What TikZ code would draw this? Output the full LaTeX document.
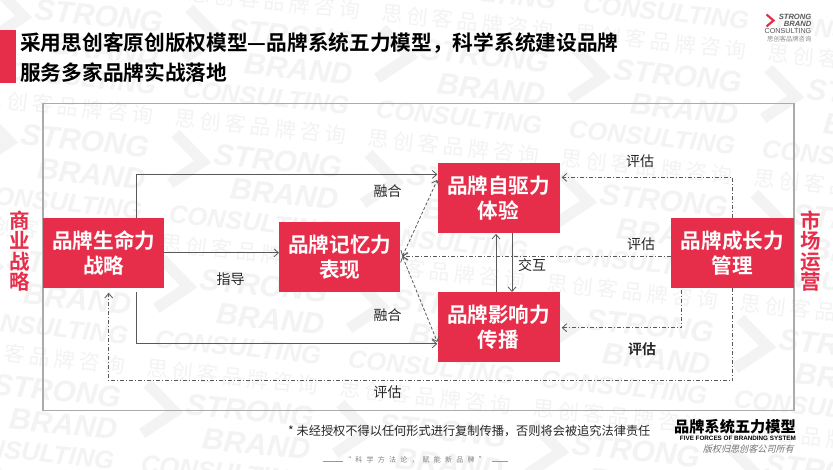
\documentclass[tikz,border=0pt]{standalone}
\usepackage{fontspec}
\usetikzlibrary{arrows.meta,calc}
\setmainfont{Noto Sans CJK SC}
\newfontfamily\cjk[BoldFont={Noto Sans CJK SC Bold}]{Noto Sans CJK SC}
\newfontfamily\cjkheavy{Noto Sans CJK SC Black}
\newfontfamily\cjkwm[LetterSpace=19]{Noto Sans CJK SC}
\newfontfamily\cjkfoot[LetterSpace=60]{Noto Sans CJK SC}
\newfontfamily\cjksl[FakeSlant=0.25]{Noto Sans CJK SC}
\newfontfamily\latin[ItalicFont={Liberation Sans Italic},BoldFont={Liberation Sans Bold},BoldItalicFont={Liberation Sans Bold Italic}]{Liberation Sans}
\definecolor{brandred}{HTML}{E62E4B}
\definecolor{wmgray}{HTML}{F3F3F3}
\definecolor{linegray}{HTML}{595959}
\definecolor{framegray}{HTML}{ABABAB}
\newcommand{\fs}[2]{\fontsize{#1}{#2}\selectfont}
\tikzset{
  redbox/.style={draw=none,fill=brandred,text=white,anchor=north west,inner sep=0pt,align=center,font=\cjk\bfseries\fs{20.6}{25}},
  sidetext/.style={text=brandred,inner sep=0pt,align=center,font=\cjk\bfseries\fs{20.5}{20.5}},
  lbl/.style={text=black!85,inner sep=0pt,font=\cjk\fs{14}{16}},
  solidarrow/.style={draw=linegray,line width=0.8pt,-{Straight Barb[length=4.5pt,width=8pt]}},
  dasharrow/.style={draw=linegray,line width=0.8pt,dash pattern=on 3pt off 2pt},
  dotarrow/.style={draw=linegray,line width=0.8pt,dash pattern=on 4pt off 2pt on 1pt off 2pt,-{Straight Barb[length=4.5pt,width=8pt]}},
  wmlat/.style={text=wmgray,inner sep=0pt,anchor=east,transform shape},
}
\begin{document}
\begin{tikzpicture}[x=1pt,y=-1pt]
\useasboundingbox (0,0) rectangle (833,469);
\fill[white] (0,0) rectangle (833,469);
% watermark
\begin{scope}
\clip (0,0) rectangle (833,469);
\foreach \i in {-1,...,3}{
  \foreach \j in {-2,...,2}{
    \begin{scope}[shift={(217+\i*193-\j*14,140+\i*20+\j*125)},rotate=-6]
      \draw[wmgray,line width=11pt,miter limit=10] (-42,-2) -- (-12,23) -- (-42,48);
      \node[wmlat,font=\latin\bfseries\itshape\fs{30}{30}] (wms\i\j) at (127,14) {STRONG};
      \node[wmlat,font=\latin\bfseries\itshape\fs{30}{30}] (wmb\i\j) at (127,47) {BRAND};
      \node[wmlat,font=\latin\bfseries\itshape\fs{25.5}{27}] (wmc\i\j) at (127,78) {CONSULTING};
      \node[wmlat,font=\cjkwm\fs{21}{21}] (wmz\i\j) at (127,108) {思创客品牌咨询};
    \end{scope}
  }
}
\end{scope}
% title
\fill[brandred] (0,30) rectangle (15.5,83);
\node[anchor=west,inner sep=0pt,font=\cjk\bfseries\fs{20.7}{24}] (title1) at (20,43.5) {采用思创客原创版权模型—品牌系统五力模型，科学系统建设品牌};
\node[anchor=west,inner sep=0pt,font=\cjk\bfseries\fs{20.7}{24}] (title2) at (20,72.5) {服务多家品牌实战落地};
% logo
\draw[brandred,line width=2.2pt,miter limit=10] (766.5,14.5) -- (773.5,20.5) -- (766.5,26.5);
\node[anchor=east,inner sep=0pt,text=black!65,font=\latin\bfseries\itshape\fs{7.6}{7}] (logos) at (811.5,16.5) {STRONG};
\node[anchor=east,inner sep=0pt,text=black!65,font=\latin\bfseries\itshape\fs{7.6}{7}] (logob) at (811.5,24) {BRAND};
\node[anchor=east,inner sep=0pt,text=black!65,font=\latin\fs{7.2}{7}] (logoc) at (811.5,31.5) {CONSULTING};
\node[anchor=east,inner sep=0pt,text=black!45,font=\cjk\fs{6.3}{7}] (logoz) at (811.5,39) {思创客品牌咨询};
% frame
\draw[framegray,line width=1.1pt] (43,103.5) rectangle (794,410.5);
% boxes
\node[redbox,minimum width=121pt,minimum height=69.5pt] (life) at (43,218) {品牌生命力\\战略};
\node[redbox,minimum width=121pt,minimum height=69.5pt] (memory) at (279,222) {品牌记忆力\\表现};
\node[redbox,minimum width=122pt,minimum height=69.5pt] (drive) at (437.3,163) {品牌自驱力\\体验};
\node[redbox,minimum width=122pt,minimum height=69.5pt] (influence) at (437.3,292) {品牌影响力\\传播};
\node[redbox,minimum width=123pt,minimum height=69.5pt] (growth) at (670.7,218) {品牌成长力\\管理};
\node[sidetext] (leftside) at (20,251) {商\\业\\战\\略};
\node[sidetext] (rightside) at (811,251) {市\\场\\运\\营};
% anchor helpers
\coordinate (xa) at (136.7,0);
\coordinate (xb) at (732.7,0);
\coordinate (xc) at (681.7,0);
\coordinate (xd) at (108.7,0);
\coordinate (ya) at (0,174.4);
\coordinate (yb) at (0,343.8);
\coordinate (yc) at (0,177.4);
\coordinate (yd) at (0,327.7);
\coordinate (ye) at (0,380.7);
\coordinate (yf) at (0,256.3);
\coordinate (yg) at (0,252.8);
\coordinate (xup) at (496,0);
\coordinate (xdn) at (512,0);
% solid connectors
\draw[solidarrow] (life.north -| xa) |- (drive.west |- ya);
\draw[solidarrow] ($(life.south -| xa)+(0,4)$) |- (influence.west |- yb);
\draw[solidarrow] (life.east |- yg) -- (memory.west |- yg);
\draw[solidarrow] (influence.north -| xup) -- ($(drive.south -| xup)+(0,1)$);
\draw[solidarrow] (drive.south -| xdn) -- (influence.north -| xdn);
% dashed between memory and drive/influence
\draw[dasharrow,{Straight Barb[length=4.5pt,width=8pt]}-{Straight Barb[length=4.5pt,width=8pt]}] ($(memory.east |- yf)+(2,0)$) -- ($(drive.west)+(0,-18)$);
\draw[dasharrow,{Straight Barb[length=4.5pt,width=8pt]}-{Straight Barb[length=4.5pt,width=8pt]}] ($(memory.east |- yf)+(2,0)$) -- ($(influence.west)+(0,15)$);
% dash-dot evaluation connectors
\draw[dotarrow] (growth.west |- yf) -- ($(memory.east |- yf)+(2,0)$);
\draw[dotarrow] (growth.north -| xb) |- ($(drive.east |- yc)+(2,0)$);
\draw[dotarrow] ($(growth.south -| xc)+(0,2)$) |- ($(influence.east |- yd)+(2,0)$);
\draw[dotarrow] (growth.south -| xb) -- (xb |- ye) -- (xd |- ye) -- ($(life.south -| xd)+(0,5)$);
% labels
\node[lbl] (l1) at (387.5,191) {融合};
\node[lbl] (l2) at (387.5,315) {融合};
\node[lbl] (l3) at (230.5,279) {指导};
\node[lbl] (l4) at (387.5,392.5) {评估};
\node[lbl] (l5) at (640,161.5) {评估};
\node[lbl] (l6) at (641,244) {评估};
\node[lbl] (l7) at (532,265) {交互};
\node[lbl,font=\cjk\bfseries\fs{14}{16}] (l8) at (642,349) {评估};
% footnote
\node[anchor=west,inner sep=0pt,text=black!85,font=\cjk\fs{12.2}{14}] (note) at (288,431) {* 未经授权不得以任何形式进行复制传播，否则将会被追究法律责任};
% brand mark bottom right
\node[anchor=east,inner sep=0pt,font=\cjkheavy\fs{15.2}{16}] (mark) at (796,426.5) {品牌系统五力模型};
\node[anchor=east,inner sep=0pt,font=\latin\bfseries\fs{6.3}{7}] (marken) at (796,438.3) {FIVE FORCES OF BRANDING SYSTEM};
\node[anchor=east,inner sep=0pt,text=black!55,font=\cjksl\fs{9.1}{10}] (markcn) at (794,449.5) {版权归思创客公司所有};
% footer
\node[inner sep=0pt,text=black!50,font=\cjkfoot\fs{7}{8}] (foot) at (415,459.5) {“科学方法论，赋能新品牌”};
\draw[black!40,line width=0.5pt] (323,461) -- (343,461);
\draw[black!40,line width=0.5pt] (492,461) -- (508,461);
\end{tikzpicture}
\end{document}
